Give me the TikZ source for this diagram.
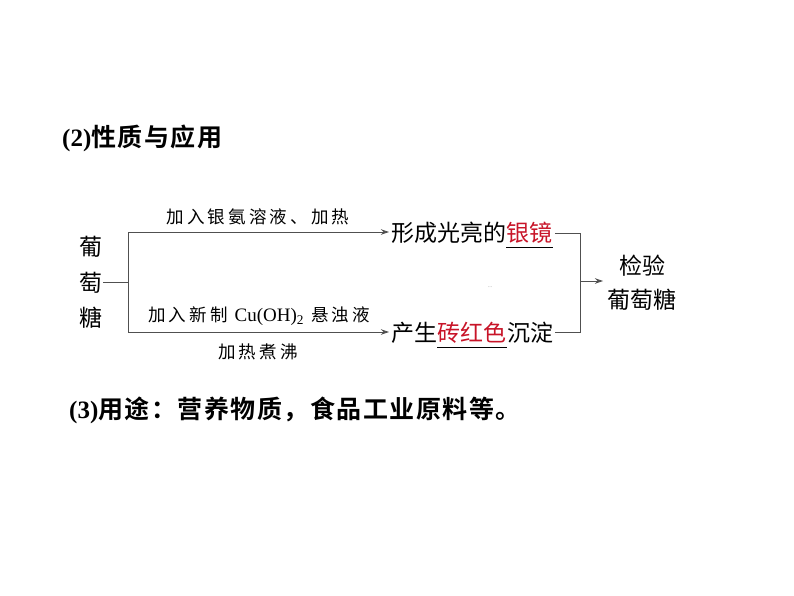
\documentclass[tikz,border=0pt]{standalone}
\usepackage{fontspec}
\setmainfont{Liberation Serif}
\newfontfamily\cjk{Noto Sans CJK SC}
\newfontfamily\cjkl[LetterSpace=18]{Noto Sans CJK SC}
\newfontfamily\cjkb[LetterSpace=6]{Noto Sans CJK SC Bold}
\usetikzlibrary{arrows.meta}
\definecolor{redtext}{RGB}{200,20,40}
\definecolor{linegray}{RGB}{80,80,80}
\tikzset{
  txt/.style={inner sep=0pt, font=\fontsize{23}{23}\selectfont\cjk},
  lbl/.style={inner sep=0pt, font=\fontsize{17.5}{17.5}\selectfont\cjkl},
  head/.style={inner sep=0pt, font=\fontsize{25}{25}\selectfont},
  conn/.style={draw=linegray, line width=0.9pt},
  arr/.style={conn, -{Stealth[length=8pt,width=5.5pt]}},
  uline/.style={draw=black, line width=0.8pt}
}
\begin{document}
\begin{tikzpicture}[x=1pt,y=-1pt]
\useasboundingbox[fill=white] (0,0) rectangle (794,596);
% headings
\node[head, anchor=west] (h2) at (62,138) {\textbf{(2)}\cjkb 性质与应用};
\node[head, anchor=west] (h3) at (69,410) {\textbf{(3)}\cjkb 用途：营养物质，食品工业原料等。};
% left glucose
\node[txt] (g1) at (91,247) {葡};
\node[txt] (g2) at (91,283) {萄};
\node[txt] (g3) at (91,318) {糖};
\coordinate (stem) at (103,282);
\coordinate (bar) at (128,282);
\coordinate (bartop) at (128,232);
\coordinate (barbot) at (128,332);
% results
\node[txt, anchor=west] (r1a) at (391,233) {形成光亮的};
\node[txt, anchor=west, text=redtext] (r1b) at (r1a.east) {银镜};
\node[txt, anchor=west] (r2a) at (391,333) {产生};
\node[txt, anchor=west, text=redtext] (r2b) at (r2a.east) {砖红色};
\node[txt, anchor=west] (r2c) at (r2b.east) {沉淀};
% labels
\node[lbl] (l1) at (258,217) {加入银氨溶液、加热};
\node[lbl] (l2) at (259,316) {加入新制 {\fontsize{19}{19}\selectfont\rmfamily Cu(OH)\textsubscript{2}} 悬浊液};
\node[lbl] (l3) at (258,352) {加热煮沸};
% right result
\node[txt] (c1) at (642,266) {检验};
\node[txt] (c2) at (642,300) {葡萄糖};
\node[inner sep=0pt, font=\fontsize{6}{6}\selectfont, text=black!35] (dots) at (490,287) {...};
% connectors left
\draw[conn] (stem) -- (bar);
\draw[conn] (bartop) -- (barbot);
\draw[arr] (bartop) -- ([xshift=-2pt]r1a.west |- bartop);
\draw[arr] (barbot) -- ([xshift=-2pt]r2a.west |- barbot);
% underlines
\draw[uline] ([yshift=-4pt]r1b.south west) -- ([yshift=-4pt]r1b.south east);
\draw[uline] ([yshift=-4pt]r2b.south west) -- ([yshift=-4pt]r2b.south east);
% right bracket
\coordinate (rtop) at (580,233);
\coordinate (rbot) at (580,332);
\coordinate (rmid) at (580,281);
\draw[conn] ([xshift=2pt]r1b.east |- rtop) -- (rtop) -- (rbot) -- ([xshift=2pt]r2c.east |- rbot);
\draw[arr] (rmid) -- (603,281) coordinate (rend);
\end{tikzpicture}
\end{document}
